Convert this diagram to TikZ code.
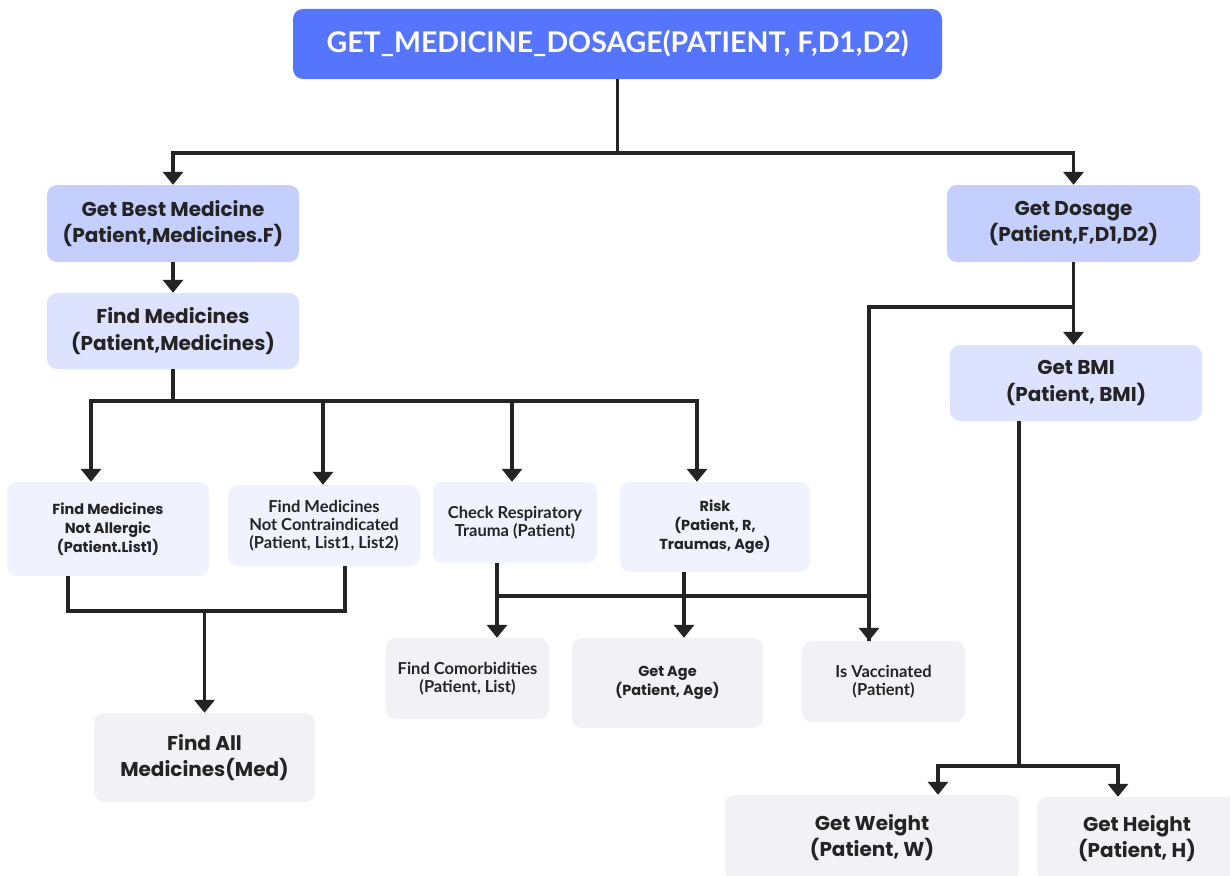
\documentclass[tikz,border=0pt]{standalone}
\usepackage{fontspec}
\setmainfont{Lato}
\newfontfamily\popfont{Poppins}
\usepackage{xcolor}
\usetikzlibrary{arrows.meta,calc,positioning}

\definecolor{topblue}{RGB}{85,117,255}
\definecolor{midblue}{RGB}{197,207,253}
\definecolor{lightblue}{RGB}{221,227,254}
\definecolor{paleblue}{RGB}{240,243,254}
\definecolor{palegray}{RGB}{242,242,246}
\definecolor{linegray}{RGB}{36,36,36}

\begin{document}
\begin{tikzpicture}[x=1pt,y=-1pt,
                    box/.style={rounded corners=10pt,align=center,text=linegray,font=\popfont\bfseries\fontsize{20}{26.5}\selectfont},
                    small node/.style={box,font=\popfont\bfseries\fontsize{14.5}{19}\selectfont},
                    narrow node/.style={box,font=\bfseries\fontsize{16.5}{18}\selectfont},
                    conn/.style={line width=3.6pt,color=linegray},
                    arrow/.style={conn,-{Triangle[width=20pt,length=13pt]}}]

  \clip (0,0) rectangle (1230,875);
  \fill[white] (0,0) rectangle (1230,875);

  % boxes
  \node[box,fill=topblue,text=white,minimum width=649,minimum height=70,font=\bfseries\fontsize{28.5}{32}\selectfont] (title) at (617.5,44) {GET\_MEDICINE\_DOSAGE(PATIENT, F,D1,D2)};
  \node[box,fill=midblue,minimum width=252,minimum height=77] (best) at (173,223.5) {Get Best Medicine\\(Patient,Medicines.F)};
  \node[box,fill=lightblue,minimum width=252,minimum height=76] (find) at (173,331) {Find Medicines\\(Patient,Medicines)};
  \node[box,fill=midblue,minimum width=253,minimum height=77] (dosage) at (1073.5,223.5) {Get Dosage\\(Patient,F,D1,D2)};
  \node[box,fill=lightblue,minimum width=252,minimum height=76] (bmi) at (1076,383) {Get BMI\\(Patient, BMI)};

  \node[small node,fill=paleblue,minimum width=202,minimum height=94] (allergic) at (108,529) {Find Medicines\\Not Allergic\\(Patient.List1)};
  \node[narrow node,fill=paleblue,minimum width=192,minimum height=81] (contra) at (324,525.5) {Find Medicines\\Not Contraindicated\\(Patient, List1, List2)};
  \node[narrow node,fill=paleblue,minimum width=164,minimum height=81] (resp) at (515,522.5) {Check Respiratory\\Trauma (Patient)};
  \node[small node,fill=paleblue,minimum width=190,minimum height=90] (risk) at (715,527) {Risk\\(Patient, R,\\Traumas, Age)};

  \node[narrow node,fill=palegray,minimum width=163,minimum height=81] (comorb) at (467.5,678.5) {Find Comorbidities\\(Patient, List)};
  \node[small node,fill=palegray,minimum width=191,minimum height=90] (age) at (667.5,683) {Get Age\\(Patient, Age)};
  \node[narrow node,fill=palegray,minimum width=163,minimum height=81] (vacc) at (883.5,681.5) {Is Vaccinated\\(Patient)};
  \node[box,fill=palegray,minimum width=221,minimum height=89] (all) at (204.5,757.5) {Find All\\Medicines(Med)};
  \node[box,fill=palegray,minimum width=294,minimum height=85] (weight) at (872,837.5) {Get Weight\\(Patient, W)};
  \node[box,fill=palegray,minimum width=200,minimum height=83] (height) at (1137,838.5) {Get Height\\(Patient, H)};

  % junctions
  \coordinate (j1) at (title.south |- 0,153);
  \coordinate (j2) at (find.south |- 0,401);
  \coordinate (j3) at (all.north |- 0,611);
  \coordinate (j4) at ([xshift=-18pt]resp.south |- 0,596);
  \coordinate (j5) at (dosage.south |- 0,307);
  \coordinate (j6) at ([xshift=-57pt]bmi.south |- 0,766);

  % top level
  \draw[conn] (title.south) -- (j1);
  \draw[arrow] (j1) -| (best.north);
  \draw[arrow] (j1) -| (dosage.north);
  \draw[arrow] (best) -- (find);

  % medicines
  \draw[conn] (find.south) -- (j2);
  \draw[arrow] (j2) -| ([xshift=-17pt]allergic.north);
  \draw[arrow] (j2) -| ([xshift=-1pt]contra.north);
  \draw[arrow] (j2) -| ([xshift=-3pt]resp.north);
  \draw[arrow] (j2) -| ([xshift=-18pt]risk.north);
  \draw[conn] ([xshift=-40pt]allergic.south) |- (j3) -| ([xshift=21pt]contra.south);
  \draw[arrow] (j3) -- (all.north);

  % respiratory and risk
  \draw[arrow] ([xshift=-18pt]resp.south) -- ([xshift=29.5pt]comorb.north);
  \draw[conn] (j4) -| ([xshift=-14.5pt]vacc.north);
  \draw[arrow] ([xshift=-31pt]risk.south) -- ([xshift=16.5pt]age.north);

  % dosage
  \draw[arrow] (dosage.south) -- (dosage.south |- bmi.north);
  \draw[arrow] (j5) -| ([xshift=-14.5pt]vacc.north);
  \draw[conn] ([xshift=-57pt]bmi.south) -- (j6);
  \draw[arrow] (j6) -| ([xshift=66pt]weight.north);
  \draw[arrow] (j6) -| ([xshift=-19pt]height.north);

\end{tikzpicture}
\end{document}
